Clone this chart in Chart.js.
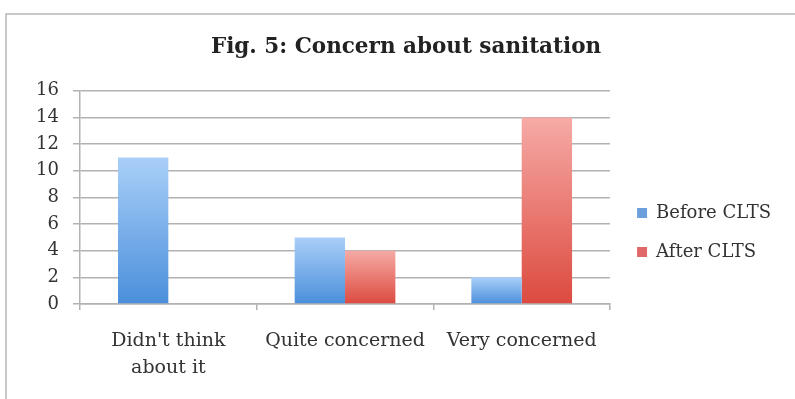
<!DOCTYPE html>
<html>
<head>
<meta charset="utf-8">
<script src="https://cdn.jsdelivr.net/npm/chart.js@4"></script>
<style>
  html, body { margin: 0; padding: 0; background: #fff; overflow: hidden; }
  #wrap { position: relative; width: 795px; height: 399px; }
  #frame { position: absolute; left: 5px; top: 13px; width: 900px; height: 500px; border: 2px solid #c8c8c8; box-sizing: border-box; }
  canvas { position: absolute; left: 0; top: 0; }
</style>
</head>
<body>
<div id="wrap">
  <div id="frame"></div>
  <canvas id="chart" width="795" height="399"></canvas>
</div>
<script>
const categories = [["Didn't think", "about it"], "Quite concerned", "Very concerned"];
const seriesNames = ["Before CLTS", "After CLTS"];
const beforeValues = [11, 5, 2];
const afterValues = [0, 4, 14];
const yMin = 0, yMax = 16, yStep = 2;

const serif = "'DejaVu Serif', serif";
const textColor = "#333";
const gridColor = "#b2b2b2";
const legendColors = ["#6e9fdd", "#e06868"];

// each bar goes light at the top to darker at its base
function barGradient(top, bottom) {
  return function (ctx) {
    const chart = ctx.chart;
    const y = chart.scales.y;
    if (!y || ctx.type !== "data") return bottom;
    const y0 = y.getPixelForValue(0);
    const y1 = y.getPixelForValue(ctx.raw);
    if (!isFinite(y0) || !isFinite(y1) || y0 === y1) return bottom;
    const g = chart.ctx.createLinearGradient(0, y1, 0, y0);
    g.addColorStop(0, top);
    g.addColorStop(1, bottom);
    return g;
  };
}

// move the legend down/right to where it sits in the picture
const legendShift = {
  id: "legendShift",
  afterLayout(chart) {
    const l = chart.legend;
    if (!l) return;
    l.top += 33; l.bottom += 33;
    l.left += 6; l.right += 6;
  }
};

new Chart(document.getElementById("chart"), {
  type: "bar",
  data: {
    labels: categories,
    datasets: [
      {
        label: seriesNames[0],
        data: beforeValues,
        backgroundColor: barGradient("#a9cff8", "#4a8fdb"),
        borderWidth: 0,
        categoryPercentage: 0.57,
        barPercentage: 1.0,
      },
      {
        label: seriesNames[1],
        data: afterValues,
        backgroundColor: barGradient("#f6aaa6", "#dc4a3f"),
        borderWidth: 0,
        categoryPercentage: 0.57,
        barPercentage: 1.0,
      },
    ],
  },
  options: {
    responsive: false,
    animation: false,
    layout: { padding: { left: 37, right: 20, top: 0, bottom: 0 } },
    plugins: {
      title: {
        display: true,
        text: "Fig. 5: Concern about sanitation",
        color: "#222",
        font: { family: serif, size: 21.5, weight: "bold" },
        padding: { top: 35, bottom: 30 },
      },
      legend: {
        position: "right",
        align: "center",
        labels: {
          color: textColor,
          font: { family: serif, size: 18 },
          boxWidth: 10,
          boxHeight: 10,
          padding: 21,
          generateLabels: chart => chart.data.datasets.map((d, i) => ({
            text: d.label,
            fillStyle: legendColors[i],
            strokeStyle: legendColors[i],
            lineWidth: 0,
            fontColor: textColor,
            hidden: false,
            datasetIndex: i,
          })),
        },
      },
      tooltip: { enabled: false },
    },
    scales: {
      x: {
        grid: { drawOnChartArea: false, drawTicks: true, tickLength: 6, color: gridColor, lineWidth: 1.5 },
        border: { color: gridColor, width: 1.5 },
        ticks: { color: textColor, font: { family: serif, size: 19, lineHeight: 1.4 }, padding: 18, maxRotation: 0, autoSkip: false },
        afterFit: s => { s.height = 95; },
      },
      y: {
        min: yMin,
        max: yMax,
        grid: { color: gridColor, lineWidth: 1.5, tickLength: 7 },
        border: { color: gridColor, width: 1.5 },
        ticks: { stepSize: yStep, color: textColor, font: { family: serif, size: 18 }, padding: 14 },
        afterFit: s => { s.width = 43; },
      },
    },
  },
  plugins: [legendShift],
});
</script>
</body>
</html>
